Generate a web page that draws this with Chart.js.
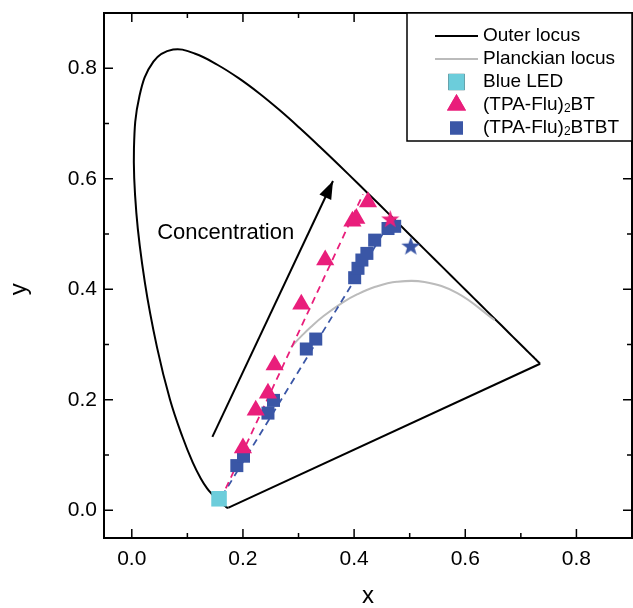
<!DOCTYPE html>
<html>
<head>
<meta charset="utf-8">
<script src="https://cdn.jsdelivr.net/npm/chart.js@4.4.0/dist/chart.umd.min.js"></script>
<style>
  html, body { margin: 0; padding: 0; background: #fff; }
</style>
</head>
<body>
<canvas id="cie" width="633" height="608"></canvas>
<script>
// CIE 1931 spectral locus, 380 - 700 nm every 5 nm
var locus_x = [0.1741, 0.1740, 0.1738, 0.1736, 0.1733, 0.1730, 0.1726, 0.1721, 0.1714, 0.1703,
  0.1689, 0.1669, 0.1644, 0.1611, 0.1566, 0.1510, 0.1440, 0.1355, 0.1241, 0.1096,
  0.0913, 0.0687, 0.0454, 0.0235, 0.0082, 0.0039, 0.0139, 0.0389, 0.0743, 0.1142,
  0.1547, 0.1929, 0.2296, 0.2658, 0.3016, 0.3373, 0.3731, 0.4087, 0.4441, 0.4788,
  0.5125, 0.5448, 0.5752, 0.6029, 0.6270, 0.6482, 0.6658, 0.6801, 0.6915, 0.7006,
  0.7079, 0.7140, 0.7190, 0.7230, 0.7260, 0.7283, 0.7300, 0.7311, 0.7320, 0.7327,
  0.7334, 0.7340, 0.7344, 0.7346, 0.7347];
var locus_y = [0.0050, 0.0050, 0.0049, 0.0049, 0.0048, 0.0048, 0.0048, 0.0048, 0.0051, 0.0058,
  0.0069, 0.0086, 0.0109, 0.0138, 0.0177, 0.0227, 0.0297, 0.0399, 0.0578, 0.0868,
  0.1327, 0.2007, 0.2950, 0.4127, 0.5384, 0.6548, 0.7502, 0.8120, 0.8338, 0.8262,
  0.8059, 0.7816, 0.7543, 0.7243, 0.6923, 0.6589, 0.6245, 0.5896, 0.5547, 0.5202,
  0.4866, 0.4544, 0.4242, 0.3965, 0.3725, 0.3514, 0.3340, 0.3197, 0.3083, 0.2993,
  0.2920, 0.2859, 0.2809, 0.2770, 0.2740, 0.2717, 0.2700, 0.2689, 0.2680, 0.2673,
  0.2666, 0.2660, 0.2656, 0.2654, 0.2653];

// Planckian locus, ~9000 K down to 1000 K
var planck_x = [0.2866, 0.2952, 0.3064, 0.3221, 0.3451, 0.3805, 0.4053, 0.4369, 0.4770, 0.5267, 0.5857, 0.6527];
var planck_y = [0.2950, 0.3048, 0.3166, 0.3318, 0.3516, 0.3768, 0.3907, 0.4041, 0.4137, 0.4133, 0.3931, 0.3445];

// blue LED
var led_x = [0.157];
var led_y = [0.021];

// (TPA-Flu)2BT
var bt_x = [0.200, 0.223, 0.245, 0.257, 0.305, 0.348, 0.397, 0.404, 0.425];
var bt_y = [0.113, 0.181, 0.212, 0.263, 0.373, 0.453, 0.523, 0.528, 0.558];
var bt_star_x = [0.465];
var bt_star_y = [0.528];
var bt_fit_x = [0.160, 0.416];
var bt_fit_y = [0.020, 0.572];

// (TPA-Flu)2BTBT
var btbt_x = [0.189, 0.201, 0.245, 0.255, 0.314, 0.331, 0.401, 0.407, 0.414, 0.423, 0.437, 0.461, 0.473];
var btbt_y = [0.081, 0.098, 0.176, 0.199, 0.292, 0.310, 0.421, 0.438, 0.453, 0.465, 0.489, 0.510, 0.514];
var btbt_star_x = [0.502];
var btbt_star_y = [0.479];
var btbt_fit_x = [0.162, 0.460];
var btbt_fit_y = [0.025, 0.514];

// concentration arrow
var arrow_x = [0.145, 0.362];
var arrow_y = [0.133, 0.596];

var x_ticks = [0.0, 0.2, 0.4, 0.6, 0.8];
var x_minor = [0.1, 0.3, 0.5, 0.7];
var y_ticks = [0.0, 0.2, 0.4, 0.6, 0.8];
var y_minor = [0.1, 0.3, 0.5, 0.7];

var legend_labels = ['Outer locus', 'Planckian locus', 'Blue LED', '(TPA-Flu)\u2082BT', '(TPA-Flu)\u2082BTBT'];

var PINK = '#E91E7B';
var BLUE = '#3A56A6';
var CYAN = '#6CCDDB';
var GREY = '#BBBBBB';
var FONT = 'Liberation Sans, Arial, sans-serif';

function pts(xs, ys) {
  return xs.map(function (x, i) { return { x: x, y: ys[i] }; });
}

function makeStar(color, size) {
  var c = document.createElement('canvas');
  c.width = size;
  c.height = size;
  var g = c.getContext('2d');
  var R = size / 2, r = R * 0.4;
  g.beginPath();
  for (var i = 0; i < 10; i++) {
    var rad = i % 2 ? r : R;
    var a = -Math.PI / 2 + i * Math.PI / 5;
    g.lineTo(R + rad * Math.cos(a), R + 1 + rad * Math.sin(a));
  }
  g.closePath();
  g.fillStyle = color;
  g.fill();
  return c;
}

// keep the plot box where the reference has it
function noPad(s) {
  s.paddingTop = 0;
  s.paddingBottom = 0;
  s.paddingLeft = 0;
  s.paddingRight = 0;
}

// arrow head, note, y title, frame, inward ticks and boxed legend
var cieDecor = {
  id: 'cieDecor',
  afterDraw: function (chart) {
    var ctx = chart.ctx, a = chart.chartArea;
    var sx = chart.scales.x, sy = chart.scales.y;
    ctx.save();

    // arrow head
    var x1 = sx.getPixelForValue(arrow_x[0]), y1 = sy.getPixelForValue(arrow_y[0]);
    var x2 = sx.getPixelForValue(arrow_x[1]), y2 = sy.getPixelForValue(arrow_y[1]);
    ctx.save();
    ctx.translate(x2, y2);
    ctx.rotate(Math.atan2(y2 - y1, x2 - x1));
    ctx.beginPath();
    ctx.moveTo(0, 0);
    ctx.lineTo(-18, -6.5);
    ctx.lineTo(-18, 6.5);
    ctx.closePath();
    ctx.fillStyle = '#000';
    ctx.fill();
    ctx.restore();

    // note
    ctx.fillStyle = '#000';
    ctx.font = '22px ' + FONT;
    ctx.textAlign = 'center';
    ctx.textBaseline = 'middle';
    ctx.fillText('Concentration', sx.getPixelForValue(0.169), sy.getPixelForValue(0.502));

    // y axis title, a little below the middle as in the reference
    ctx.save();
    ctx.translate(19, sy.getPixelForValue(0.4));
    ctx.rotate(-Math.PI / 2);
    ctx.font = '24px ' + FONT;
    ctx.fillText('y', 0, 0);
    ctx.restore();

    // frame top / right
    ctx.strokeStyle = '#000';
    ctx.lineWidth = 2;
    ctx.beginPath();
    ctx.moveTo(a.left, a.top);
    ctx.lineTo(a.right, a.top);
    ctx.lineTo(a.right, a.bottom);
    ctx.stroke();

    // inward ticks on all four sides
    ctx.lineWidth = 1.5;
    ctx.beginPath();
    function xt(v, len) {
      var p = sx.getPixelForValue(v);
      ctx.moveTo(p, a.bottom); ctx.lineTo(p, a.bottom - len);
      ctx.moveTo(p, a.top); ctx.lineTo(p, a.top + len);
    }
    function yt(v, len) {
      var p = sy.getPixelForValue(v);
      ctx.moveTo(a.left, p); ctx.lineTo(a.left + len, p);
      ctx.moveTo(a.right, p); ctx.lineTo(a.right - len, p);
    }
    x_ticks.forEach(function (v) { xt(v, 9); });
    x_minor.forEach(function (v) { xt(v, 5); });
    y_ticks.forEach(function (v) { yt(v, 9); });
    y_minor.forEach(function (v) { yt(v, 5); });
    ctx.stroke();

    // legend box
    var bx = 407, by = a.top, bw = a.right - bx, bh = 128;
    ctx.fillStyle = '#fff';
    ctx.fillRect(bx, by, bw, bh);
    ctx.lineWidth = 1.5;
    ctx.strokeRect(bx, by, bw, bh);

    var sampleX = 456.5, textX = 483;
    legend_labels.forEach(function (lab, i) {
      var cy = by + 23 + i * 23;
      if (i === 0 || i === 1) {
        ctx.strokeStyle = i === 0 ? '#000' : GREY;
        ctx.lineWidth = 2;
        ctx.beginPath();
        ctx.moveTo(435, cy);
        ctx.lineTo(478, cy);
        ctx.stroke();
      } else if (i === 2) {
        Chart.helpers.drawPoint(ctx, { pointStyle: 'rect', radius: 11.5, borderWidth: 0 }, sampleX, cy);
        ctx.fillStyle = CYAN;
        ctx.fill();
      } else if (i === 3) {
        ctx.fillStyle = PINK;
        Chart.helpers.drawPoint(ctx, { pointStyle: 'triangle', radius: 11, borderWidth: 0 }, sampleX, cy);
        ctx.fill();
      } else {
        ctx.fillStyle = BLUE;
        Chart.helpers.drawPoint(ctx, { pointStyle: 'rect', radius: 9.2, borderWidth: 0 }, sampleX, cy);
        ctx.fill();
      }
      // text, with the small subscript 2
      ctx.fillStyle = '#000';
      ctx.textAlign = 'left';
      ctx.textBaseline = 'middle';
      var parts = lab.split('\u2082');
      var tx = textX;
      ctx.font = '19px ' + FONT;
      ctx.fillText(parts[0], tx, cy);
      tx += ctx.measureText(parts[0]).width;
      if (parts.length > 1) {
        ctx.font = '12px ' + FONT;
        ctx.fillText('2', tx, cy + 4);
        tx += ctx.measureText('2').width;
        ctx.font = '19px ' + FONT;
        ctx.fillText(parts[1], tx, cy);
      }
    });

    ctx.restore();
  }
};

var lineSet = function (data, color, width, extra) {
  var d = {
    data: data,
    showLine: true,
    borderColor: color,
    borderWidth: width,
    pointRadius: 0,
    fill: false
  };
  for (var k in extra) d[k] = extra[k];
  return d;
};

var ctx = document.getElementById('cie').getContext('2d');

var myChart = new Chart(ctx, {
  type: 'scatter',
  data: {
    datasets: [
      { data: pts(led_x, led_y), pointStyle: 'rect', pointRadius: 11, backgroundColor: CYAN, pointBorderWidth: 0, order: 1 },
      { data: pts(bt_star_x, bt_star_y), pointStyle: makeStar(PINK, 19), pointRadius: 9, order: 2 },
      { data: pts(bt_x, bt_y), pointStyle: 'triangle', pointRadius: 10.5, backgroundColor: PINK, pointBorderWidth: 0, order: 3 },
      { data: pts(btbt_star_x, btbt_star_y), pointStyle: makeStar(BLUE, 20), pointRadius: 9, order: 4 },
      { data: pts(btbt_x, btbt_y), pointStyle: 'rect', pointRadius: 9.2, backgroundColor: BLUE, pointBorderWidth: 0, order: 5 },
      lineSet(pts(bt_fit_x, bt_fit_y), PINK, 1.8, { borderDash: [7, 5], order: 6 }),
      lineSet(pts(btbt_fit_x, btbt_fit_y), BLUE, 1.8, { borderDash: [7, 5], order: 7 }),
      lineSet(pts(arrow_x, arrow_y), '#000', 2, { order: 8 }),
      lineSet(pts(planck_x, planck_y), GREY, 2, { tension: 0.4, order: 9 }),
      lineSet(pts(locus_x, locus_y), '#000', 2, { tension: 0.4, order: 10 }),
      lineSet(pts([locus_x[locus_x.length - 1], locus_x[0]], [locus_y[locus_y.length - 1], locus_y[0]]), '#000', 2, { order: 11 })
    ]
  },
  options: {
    responsive: false,
    animation: false,
    layout: { autoPadding: false, padding: { top: 13, right: 1, left: 0, bottom: 0 } },
    plugins: {
      legend: { display: false },
      tooltip: { enabled: false }
    },
    scales: {
      x: {
        type: 'linear',
        min: -0.05,
        max: 0.9,
        afterBuildTicks: function (s) { s.ticks = x_ticks.map(function (v) { return { value: v }; }); },
        afterFit: function (s) { s.height = 70; noPad(s); },
        grid: { display: false, drawTicks: false },
        border: { display: true, color: '#000', width: 2 },
        ticks: {
          color: '#000',
          padding: 9,
          maxRotation: 0,
          font: { family: FONT, size: 21 },
          callback: function (v) { return v.toFixed(1); }
        },
        title: { display: true, text: 'x', color: '#000', padding: 0, font: { family: FONT, size: 24, lineHeight: 1 } }
      },
      y: {
        type: 'linear',
        min: -0.05,
        max: 0.9,
        afterBuildTicks: function (s) { s.ticks = y_ticks.map(function (v) { return { value: v }; }); },
        afterFit: function (s) { s.width = 104; noPad(s); },
        grid: { display: false, drawTicks: false },
        border: { display: true, color: '#000', width: 2 },
        ticks: {
          color: '#000',
          padding: 7,
          font: { family: FONT, size: 21 },
          callback: function (v) { return v.toFixed(1); }
        },
        title: { display: false, text: 'y' }
      }
    }
  },
  plugins: [cieDecor]
});
</script>
</body>
</html>
